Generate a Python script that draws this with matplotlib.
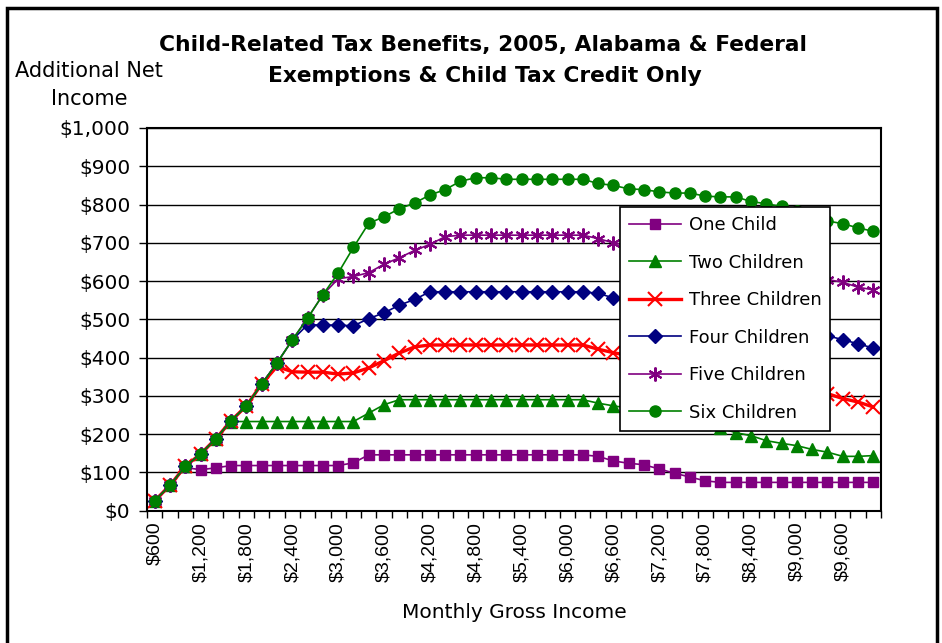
import numpy as np
import matplotlib.pyplot as plt
from matplotlib.patches import Rectangle
from matplotlib.ticker import FixedLocator, FuncFormatter

plt.rcParams['font.family'] = ['DejaVu Sans']

# monthly gross income, $600 to $10,000 in $200 steps
income = list(range(600, 10001, 200))

one_child = [25, 67, 113, 107, 112, 118, 118, 118, 118, 118, 118, 118, 118, 125, 146,
             146, 146, 146, 146, 146, 146, 146, 146, 146, 146, 146, 146, 146, 146,
             142, 130, 124, 120, 109, 98, 88, 78,
             74, 74, 74, 74, 74, 74, 74, 74, 74, 74, 74]
two_children = [26, 66, 116, 148, 188, 233, 233, 233, 233, 233, 233, 233, 233, 233,
                255, 277, 290, 290, 290, 290, 290, 290, 290, 290, 290, 290, 290, 290, 290,
                281, 274, 268, 262, 253, 245, 236, 226, 216, 204, 196, 183, 176, 170,
                160, 153, 142, 142, 144]
three_children = [26, 66, 116, 148, 188, 235, 274, 331, 377, 363, 362, 362, 357, 360,
                  373, 392, 412, 428, 433, 433, 433, 433, 433, 433, 433, 433, 433, 433, 433,
                  422, 413, 405, 400, 394, 390, 386, 378, 373, 368, 357, 349, 341, 330,
                  318, 306, 293, 284, 271]
four_children = [26, 66, 116, 148, 188, 235, 274, 331, 386, 446, 486, 485, 485, 483,
                 502, 517, 537, 552, 572, 572, 572, 572, 572, 572, 572, 572, 572, 572, 572,
                 568, 556, 547, 543, 537, 533, 530, 523, 519, 515, 505, 498, 491, 480,
                 468, 457, 447, 436, 425]
five_children = [26, 66, 116, 148, 188, 235, 274, 331, 386, 446, 503, 564, 606, 612,
                 622, 644, 661, 680, 696, 716, 720, 720, 720, 720, 720, 720, 720, 720, 720,
                 711, 700, 692, 688, 682, 678, 675, 668, 664, 660, 650, 643, 636, 625,
                 614, 604, 597, 584, 577]
six_children = [26, 66, 116, 148, 188, 235, 274, 331, 386, 446, 503, 564, 621, 688,
                751, 768, 789, 804, 825, 839, 861, 870, 870, 866, 866, 866, 866, 866, 866,
                855, 850, 841, 839, 833, 830, 830, 822, 820, 820, 808, 802, 795, 782,
                770, 757, 750, 739, 730]

series = [
    ("One Child", one_child, "#800080", "s", 7, 1.2),
    ("Two Children", two_children, "#008000", "^", 8, 1.2),
    ("Three Children", three_children, "#FF0000", "x", 10, 2.4),
    ("Four Children", four_children, "#000080", "D", 7.5, 1.2),
    ("Five Children", five_children, "#800080", (6, 2, 0), 10, 1.2),
    ("Six Children", six_children, "#008000", "o", 8, 1.2),
]

fig = plt.figure(figsize=(9.42, 6.43), dpi=100)
ax = fig.add_axes([147 / 942, 1 - 510.7 / 643, (881 - 147) / 942, (510.7 - 128) / 643])

pos = np.arange(len(income))
for name, vals, color, marker, ms, lw in series:
    ax.plot(pos, vals, color=color, marker=marker, markersize=ms, linewidth=lw,
            markeredgewidth=1.5 if marker in ("x", (6, 2, 0)) else 1.0,
            markeredgecolor=color, markerfacecolor=color, label=name, clip_on=False)

ax.set_xlim(-0.5, len(income) - 0.5)
ax.set_ylim(0, 1000)

ax.set_yticks(np.arange(0, 1001, 100))
ax.yaxis.set_major_formatter(FuncFormatter(lambda v, p: "${:,.0f}".format(v)))
ax.yaxis.grid(True, color="black", linewidth=1.0)
ax.set_axisbelow(True)

label_idx = list(range(0, len(income), 3))
ax.xaxis.set_major_locator(FixedLocator(label_idx))
ax.set_xticklabels(["${:,}".format(income[i]) for i in label_idx], rotation=90,
                   family="Liberation Sans")
ax.xaxis.set_minor_locator(FixedLocator(np.arange(-0.5, len(income), 1)))
ax.tick_params(axis="x", which="major", length=0, pad=8, labelsize=14)
ax.tick_params(axis="x", which="minor", length=5, width=1.0)
ax.tick_params(axis="y", length=6, width=1.0, labelsize=14.5, pad=6)

for sp in ax.spines.values():
    sp.set_linewidth(1.5)
    sp.set_color("black")

ax.set_xlabel("Monthly Gross Income", fontsize=14.5, labelpad=15)

fig.text(0.513, 1 - 45 / 643, "Child-Related Tax Benefits, 2005, Alabama & Federal",
         ha="center", va="center", fontsize=15.7, fontweight="bold")
fig.text(0.515, 1 - 76 / 643, "Exemptions & Child Tax Credit Only",
         ha="center", va="center", fontsize=15.7, fontweight="bold")
fig.text(89 / 942, 1 - 85 / 643, "Additional Net\nIncome", ha="center", va="center",
         fontsize=15, linespacing=1.5)

leg = ax.legend(loc="upper left", bbox_to_anchor=((620 - 147) / 734, (510.7 - 207) / 382.7),
                fontsize=13, frameon=True, fancybox=False, framealpha=1, borderpad=0.5,
                labelspacing=1.08, handlelength=2.9, handletextpad=0.4, borderaxespad=0)
leg.get_frame().set_edgecolor("black")
leg.get_frame().set_linewidth(1.2)

# outer chart frame
fig.patches.append(Rectangle((6.5 / 942, -0.02), (937 - 6.5) / 942, 1.02 - 7.5 / 643,
                             transform=fig.transFigure, fill=False,
                             edgecolor="black", linewidth=2.5))

fig.savefig("out.png", dpi=100)
